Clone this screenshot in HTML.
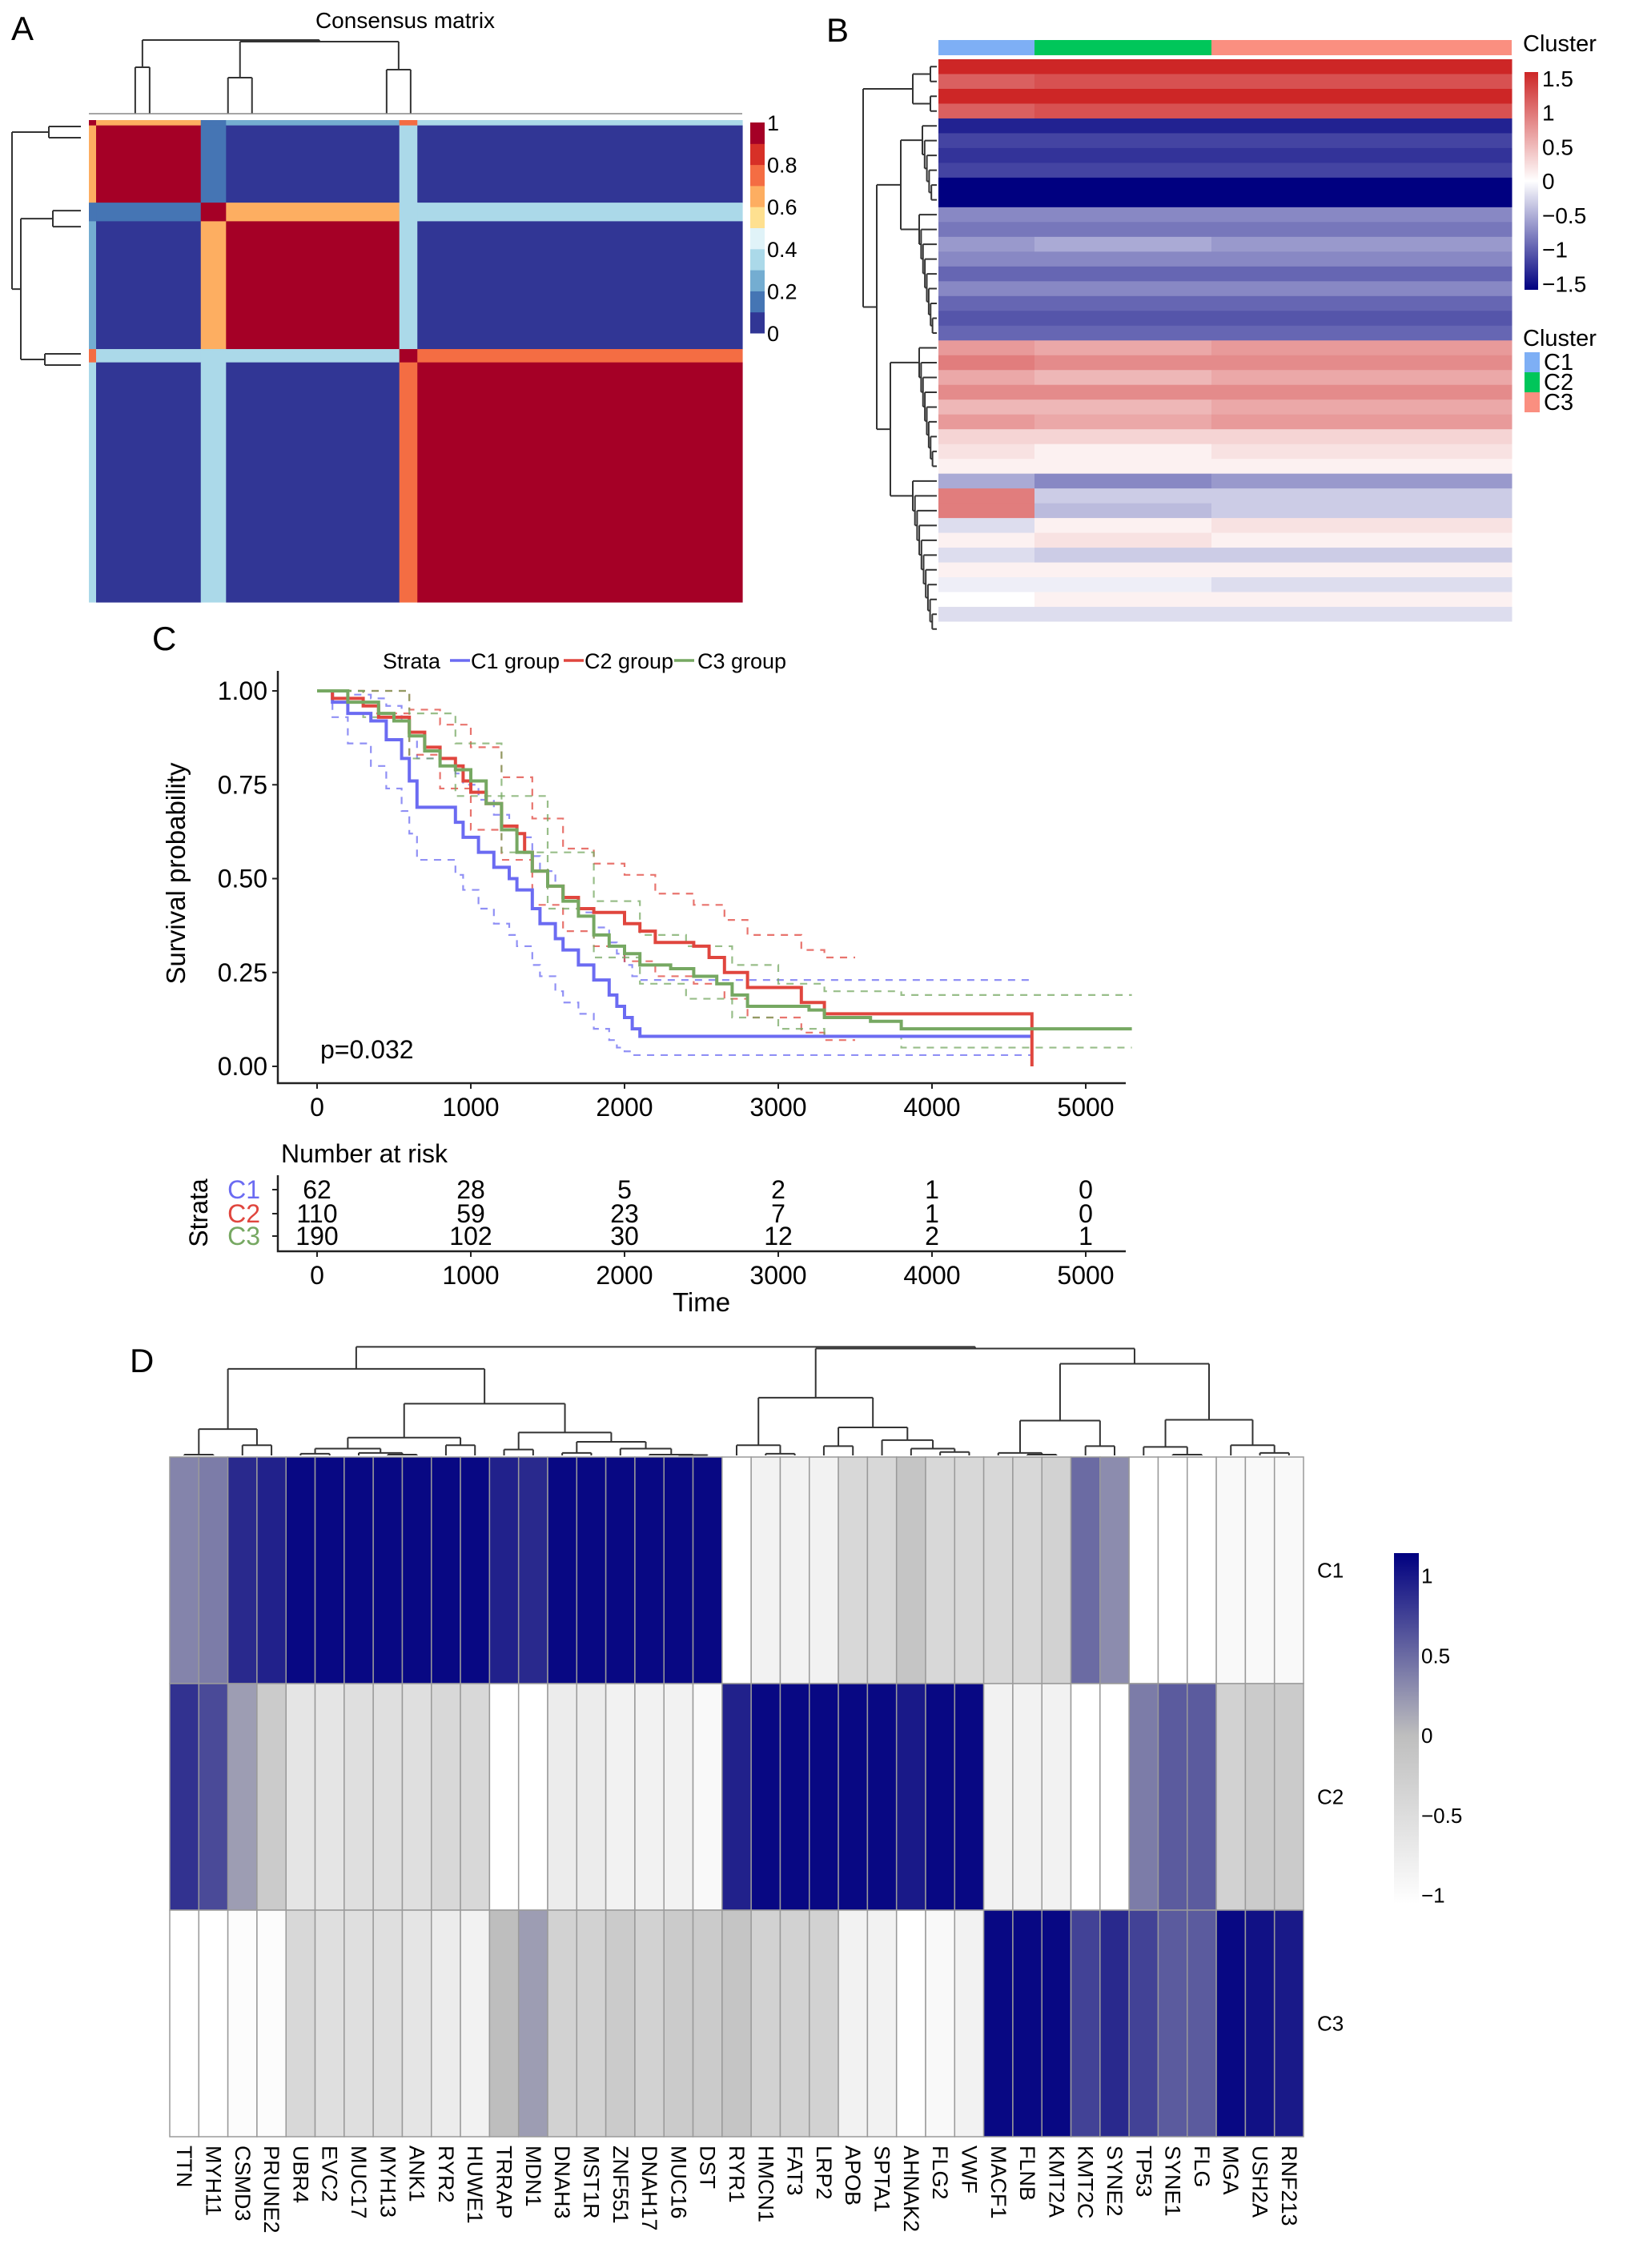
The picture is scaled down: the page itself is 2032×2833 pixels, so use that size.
<!DOCTYPE html>
<html><head><meta charset="utf-8"><title>Figure</title>
<style>
html,body{margin:0;padding:0;background:#fff;}
svg{display:block;font-family:"Liberation Sans",Arial,sans-serif;}
.n{font-family:"Liberation Sans Narrow","Liberation Sans",sans-serif;}
</style></head>
<body>
<svg id="fig" width="2032" height="2833" viewBox="0 0 2032 2833" xmlns="http://www.w3.org/2000/svg">
<rect width="2032" height="2833" fill="#fff"/>
<text x="14" y="50" font-size="42">A</text>
<text x="1032" y="52" font-size="42">B</text>
<text x="190" y="812" font-size="42">C</text>
<text x="162" y="1714" font-size="42">D</text>
<text x="506" y="35" font-size="28" text-anchor="middle">Consensus matrix</text>
<g id="gA"></g>
<g id="gB"></g>
<g id="gC" class="n"></g>
<g id="gD"></g>
</svg>
<script>
const NS='http://www.w3.org/2000/svg';
function mk(parent,tag,attrs,txt){const e=document.createElementNS(NS,tag);for(const k in attrs)e.setAttribute(k,attrs[k]);if(txt!==undefined)e.textContent=txt;parent.appendChild(e);return e;}

/* ================= PANEL A DATA ================= */
const clusterSizes=[62,110,190];
const stripeSizes=[4,14,10];
// group order: c1 stripe, c1 core, c2 stripe, c2 core, c3 stripe, c3 core
const consensusVals=[
 [0.95,0.65,0.15,0.25,0.75,0.35],
 [0.65,0.95,0.15,0.05,0.35,0.05],
 [0.15,0.15,0.95,0.65,0.35,0.35],
 [0.25,0.05,0.65,0.95,0.35,0.05],
 [0.75,0.35,0.35,0.35,0.95,0.72],
 [0.35,0.05,0.35,0.05,0.72,0.95]];
const rdylbu=['#313695','#4575b4','#74add1','#abd9e9','#e0f3f8','#fee090','#fdae61','#f46d43','#d73027','#a50026'];
const aTicks=['0','0.2','0.4','0.6','0.8','1'];

/* ================= PANEL B DATA ================= */
const bCats=['C1','C2','C3'];
const bRowC1=[1.5,1.1,1.5,1.1,-1.3,-1.1,-1.2,-1.1,-1.5,-1.5,-0.7,-0.8,-0.6,-0.7,-0.9,-0.7,-0.9,-1.0,-0.9,0.7,0.9,0.6,0.8,0.5,0.7,0.3,0.2,0.1,-0.5,0.9,0.9,-0.2,0.1,-0.2,0.1,-0.1,0.0,-0.2,0.0];
const bRowC2=[1.5,1.2,1.5,1.2,-1.3,-1.1,-1.2,-1.1,-1.5,-1.5,-0.7,-0.8,-0.5,-0.7,-0.9,-0.7,-0.9,-1.0,-0.9,0.6,0.8,0.5,0.8,0.5,0.6,0.3,0.1,0.1,-0.7,-0.3,-0.4,0.1,0.2,-0.3,0.1,-0.1,0.1,-0.2,0.0];
const bRowC3=[1.5,1.2,1.5,1.2,-1.3,-1.1,-1.2,-1.1,-1.5,-1.5,-0.7,-0.8,-0.6,-0.7,-0.9,-0.7,-0.9,-1.0,-0.9,0.7,0.8,0.6,0.8,0.6,0.7,0.3,0.2,0.1,-0.6,-0.3,-0.3,0.2,0.1,-0.3,0.1,-0.2,0.1,-0.2,0.0];
const bTicks=['1.5','1','0.5','0','\u22120.5','\u22121','\u22121.5'];
const bTickVals=[1.5,1,0.5,0,-0.5,-1,-1.5];

/* ================= PANEL C DATA ================= */
const c1T=[0,100,200,350,450,550,600,650,850,900,950,1050,1150,1250,1300,1400,1450,1550,1600,1700,1800,1900,1950,2000,2050,2100,4650];
const c1S=[1,.97,.94,.92,.87,.82,.76,.69,.69,.65,.61,.57,.53,.50,.47,.42,.38,.34,.31,.27,.23,.19,.16,.13,.10,.08,.08];
const c1Lo=[1,.93,.86,.80,.74,.68,.62,.55,.55,.51,.47,.42,.38,.35,.32,.27,.24,.20,.17,.14,.10,.07,.05,.04,.03,.03,.03];
const c1Hi=[1,1,.99,.98,.96,.92,.88,.82,.82,.78,.75,.71,.67,.64,.61,.56,.52,.48,.45,.41,.37,.33,.30,.27,.24,.23,.23];
const c2T=[0,100,300,400,600,700,800,900,950,1000,1100,1200,1300,1350,1400,1500,1600,1700,1800,2000,2100,2200,2450,2550,2650,2800,3150,3300,4650,4650];
const c2S=[1,.98,.96,.93,.89,.85,.82,.80,.76,.73,.70,.64,.62,.57,.52,.48,.45,.42,.41,.38,.36,.33,.32,.29,.25,.21,.17,.14,.14,0];
const c2CiT=[0,300,600,800,1000,1200,1400,1600,1800,2000,2200,2450,2650,2800,3150,3300,3500];
const c2Hi=[1,1,.95,.91,.85,.77,.66,.58,.54,.51,.46,.43,.39,.35,.31,.29,.29];
const c2Lo=[1,.94,.83,.74,.63,.55,.43,.36,.32,.28,.24,.22,.18,.13,.09,.07,.07];
const c3T=[0,200,400,500,600,700,800,900,1000,1100,1200,1300,1400,1500,1600,1700,1800,1900,2000,2100,2300,2450,2600,2700,2800,3200,3300,3600,3800,5300];
const c3S=[1,.97,.94,.92,.88,.84,.80,.79,.76,.70,.63,.57,.52,.48,.44,.40,.35,.32,.30,.27,.26,.24,.22,.19,.16,.15,.13,.12,.10,.10];
const c3CiT=[0,300,600,900,1200,1500,1800,2100,2400,2700,3000,3300,3800,5300];
const c3Hi=[1,1,.94,.86,.72,.57,.44,.35,.32,.27,.22,.20,.19,.19];
const c3Lo=[1,.93,.82,.72,.57,.42,.29,.22,.18,.13,.10,.08,.05,.05];
const xTicks=[0,1000,2000,3000,4000,5000];
const yTicks=[0,0.25,0.5,0.75,1];
const yTickLabels=['0.00','0.25','0.50','0.75','1.00'];
const riskGroups=['C1','C2','C3'];
const riskC1=[62,28,5,2,1,0];
const riskC2=[110,59,23,7,1,0];
const riskC3=[190,102,30,12,2,1];

/* ================= PANEL D DATA ================= */
const genes=['TTN','MYH11','CSMD3','PRUNE2','UBR4','EVC2','MUC17','MYH13','ANK1','RYR2','HUWE1','TRRAP','MDN1','DNAH3','MST1R','ZNF551','DNAH17','MUC16','DST','RYR1','HMCN1','FAT3','LRP2','APOB','SPTA1','AHNAK2','FLG2','VWF','MACF1','FLNB','KMT2A','KMT2C','SYNE2','TP53','SYNE1','FLG','MGA','USH2A','RNF213'];
const dRows=['C1','C2','C3'];
const dC1=[0.35,0.4,0.9,0.95,1.1,1.1,1.1,1.1,1.1,1.1,1.1,0.95,0.9,1.1,1.1,1.1,1.1,1.1,1.1,-1,-0.8,-0.8,-0.8,-0.4,-0.4,-0.1,-0.4,-0.4,-0.4,-0.4,-0.3,0.5,0.3,-1,-1,-1,-0.9,-0.9,-0.9];
const dC2=[0.85,0.7,0.2,-0.2,-0.6,-0.6,-0.5,-0.5,-0.5,-0.4,-0.4,-1,-1,-0.7,-0.7,-0.8,-0.8,-0.8,-0.9,0.95,1.1,1.1,1.1,1.1,1.1,1.0,1.1,1.1,-0.8,-0.8,-0.8,-1,-1,0.4,0.6,0.6,-0.3,-0.2,-0.2];
const dC3=[-1,-1,-0.95,-0.95,-0.4,-0.5,-0.5,-0.5,-0.6,-0.7,-0.8,0.0,0.2,-0.3,-0.3,-0.2,-0.3,-0.2,-0.2,-0.1,-0.3,-0.3,-0.3,-0.8,-0.8,-1,-0.9,-0.8,1.1,1.1,1.1,0.75,0.9,0.75,0.6,0.6,1.1,1.05,1.0];
const dTicks=['1','0.5','0','\u22120.5','\u22121'];
const dTickVals=[1,0.5,0,-0.5,-1];

/* ---------- helpers ---------- */
function lerpColor(a,b,t){const pa=[1,3,5].map(i=>parseInt(a.substr(i,2),16)),pb=[1,3,5].map(i=>parseInt(b.substr(i,2),16));return 'rgb('+pa.map((v,i)=>Math.round(v+(pb[i]-v)*t)).join(',')+')';}
function drawTree(parent,node,pos,base,scale,vertical,name){
  if(typeof node==='number') return [pos(node),0];
  const kids=node.c.map(k=>drawTree(parent,k,pos,base,scale,vertical,name));
  const h=node.h;
  const lo=Math.min(...kids.map(k=>k[0])),hi=Math.max(...kids.map(k=>k[0]));
  let d='';
  kids.forEach(k=>{ if(!vertical) d+='M'+k[0]+' '+(base-k[1]*scale)+'V'+(base-h*scale);
                   else d+='M'+(base-k[1]*scale)+' '+k[0]+'H'+(base-h*scale);});
  if(!vertical) d+='M'+lo+' '+(base-h*scale)+'H'+hi; else d+='M'+(base-h*scale)+' '+lo+'V'+hi;
  const p=mk(parent,'path',{d:d,fill:'none',stroke:'#333','stroke-width':2});
  
  
  return [(lo+hi)/2,h];
}

/* ================= PANEL A ================= */
(function(){
  const g=document.getElementById('gA');
  const X0=111,X1=927,Y0=150,Y1=752;
  const total=clusterSizes.reduce((a,b)=>a+b,0);
  const groups=[];
  clusterSizes.forEach((s,i)=>{groups.push(stripeSizes[i]);groups.push(s-stripeSizes[i]);});
  const sx=(X1-X0)/total, sy=(Y1-Y0)/total;
  let cum=[0];groups.forEach(s=>cum.push(cum[cum.length-1]+s));
  for(let i=0;i<6;i++)for(let j=0;j<6;j++){
    const v=consensusVals[i][j];
    const r=mk(g,'rect',{x:X0+cum[j]*sx,y:Y0+cum[i]*sy,width:groups[j]*sx+0.6,height:groups[i]*sy+0.6,fill:rdylbu[Math.min(9,Math.floor(v*10))]});
    
    
  }
  const clCum=[0];clusterSizes.forEach(s=>clCum.push(clCum[clCum.length-1]+s));
  const centers=clusterSizes.map((s,i)=>X0+(clCum[i]+s/2)*sx);
  const tp=[centers[0]-12,centers[0]+6,centers[1]-90,centers[1]-60,centers[2]-230,centers[2]-200];
  drawTree(g,{h:92,c:[{h:58,c:[0,1]},{h:90,c:[{h:45,c:[2,3]},{h:55,c:[4,5]}]}]},k=>tp[k],142,1,false,'top-dendrogram');
  const l1=mk(g,'line',{x1:X0,x2:X1,y1:142,y2:142,stroke:'#888','stroke-width':1.5});
  
  
  const lp=[Y0+8,Y0+22,Y0+clCum[1]*sy+10,Y0+clCum[1]*sy+30,Y0+clCum[2]*sy+6,Y0+clCum[2]*sy+20];
  drawTree(g,{h:86,c:[{h:40,c:[0,1]},{h:75,c:[{h:35,c:[2,3]},{h:45,c:[4,5]}]}]},k=>lp[k],101,1,true,'left-dendrogram');
  const bx=937,bw=18,by0=153,by1=416;const bh=(by1-by0)/10;
  rdylbu.forEach((c,i)=>{const r=mk(g,'rect',{x:bx,y:by1-(i+1)*bh,width:bw,height:bh+0.5,fill:c});
    
    });
  aTicks.forEach((t,i)=>{const y=by1-i*2*bh;const tx=mk(g,'text',{x:bx+bw+3,y:y+10,'font-size':27},t);
    
    });
})();

/* ================= PANEL B ================= */
(function(){
  const g=document.getElementById('gB');
  const X0=1172,X1=1888,Y0=74,Y1=795;
  const annColors=['#7eaff5','#00c65a','#fa8f80'];
  const bounds=[1172,1292,1513,1888];
  const n=bRowC1.length;const rh=(Y1-Y0)/n;
  const cols=[bRowC1,bRowC2,bRowC3];
  function bColor(v){v=Math.max(-1.5,Math.min(1.5,v));return v<0?lerpColor('#ffffff','#000080',-v/1.5):lerpColor('#ffffff','#cd2626',v/1.5);}
  bCats.forEach((c,ci)=>{
    const a=mk(g,'rect',{x:bounds[ci],y:50,width:bounds[ci+1]-bounds[ci],height:19,fill:annColors[ci]});
    
    
    cols[ci].forEach((v,ri)=>{
      const r=mk(g,'rect',{x:bounds[ci],y:Y0+ri*rh,width:bounds[ci+1]-bounds[ci]+0.5,height:rh+0.5,fill:bColor(v)});
      
      
    });
  });
  const pos=k=>Y0+(k+0.5)*rh;
  function ladder(a,b,h0,h1){let node=b;for(let k=b-1;k>=a;k--){node={h:h1+(h0-h1)*(b-k)/(b-a),c:[k,node]};}return node;}
  const tree={h:92,c:[{h:30,c:[ladder(0,1,8,2),ladder(2,3,8,2)]},
    {h:75,c:[{h:45,c:[ladder(4,9,18,4),ladder(10,18,22,3)]},{h:58,c:[ladder(19,27,22,3),ladder(28,38,30,3)]}]}]};
  drawTree(g,tree,pos,1170,1,true,'row-dendrogram');
  const t1=mk(g,'text',{x:1902,y:64,'font-size':29},'Cluster');
  
  
  const grad=mk(g,'defs',{});
  const lg=mk(grad,'linearGradient',{id:'gb',x1:0,y1:0,x2:0,y2:1});
  [['0','#cd2626'],['0.5','#ffffff'],['1','#000080']].forEach(s=>mk(lg,'stop',{offset:s[0],'stop-color':s[1]}));
  const cb=mk(g,'rect',{x:1904,y:90,width:17,height:272,fill:'url(#gb)'});
  
  
  bTicks.forEach((t,i)=>{const y=226-bTickVals[i]*85.5;const tx=mk(g,'text',{x:1926,y:y+10,'font-size':28},t);
    
    });
  const t2=mk(g,'text',{x:1902,y:432,'font-size':29},'Cluster');
  
  
  bCats.forEach((c,i)=>{
    const r=mk(g,'rect',{x:1904,y:440+i*25,width:19,height:25,fill:annColors[i]});
    
    
    const tx=mk(g,'text',{x:1928,y:462+i*25,'font-size':29},c);
    
    
  });
})();

/* ================= PANEL C ================= */
(function(){
  const g=document.getElementById('gC');
  const xs=t=>396+t*0.192, ys=s=>1332-s*469;
  const colors=['#6b6bf2','#e0463e','#76a862'];
  const ax=mk(g,'path',{d:'M347 838V1353H1406',fill:'none',stroke:'#222','stroke-width':2.5});
  
  
  yTicks.forEach((v,i)=>{
    const tk=mk(g,'line',{x1:340,x2:347,y1:ys(v),y2:ys(v),stroke:'#222','stroke-width':2});
    
    
    const tx=mk(g,'text',{x:334,y:ys(v)+11,'font-size':32,'text-anchor':'end'},yTickLabels[i]);
    
    
  });
  xTicks.forEach(v=>{
    const tk=mk(g,'line',{x1:xs(v),x2:xs(v),y1:1353,y2:1360,stroke:'#222','stroke-width':2});
    
    
    const tx=mk(g,'text',{x:xs(v),y:1394,'font-size':32,'text-anchor':'middle'},String(v));
    
    
  });
  const yl=mk(g,'text',{x:0,y:0,'font-size':33,'text-anchor':'middle',transform:'translate(231,1091) rotate(-90)'},'Survival probability');
  
  
  function step(T,S){let d='M'+xs(T[0])+' '+ys(S[0]);for(let i=1;i<T.length;i++)d+='H'+xs(T[i])+'V'+ys(S[i]);return d;}
  const series=[[c1T,c1S,c1T,c1Lo,c1Hi],[c2T,c2S,c2CiT,c2Lo,c2Hi],[c3T,c3S,c3CiT,c3Lo,c3Hi]];
  series.forEach((s,i)=>{
    [s[3],s[4]].forEach(ci=>{
      const p=mk(g,'path',{d:step(s[2],ci),fill:'none',stroke:colors[i],'stroke-width':2.2,'stroke-dasharray':'9 8',opacity:0.75});
      
      
    });
  });
  series.forEach((s,i)=>{
    const p=mk(g,'path',{d:step(s[0],s[1]),fill:'none',stroke:colors[i],'stroke-width':4});
    
    
  });
  const lt=mk(g,'text',{x:478,y:835,'font-size':27},'Strata');
  
  
  [[562,588],[704,730],[842,871]].forEach((p,i)=>{
    const l=mk(g,'line',{x1:p[0],x2:p[0]+25,y1:825,y2:825,stroke:colors[i],'stroke-width':3.5});
    
    
    const t=mk(g,'text',{x:p[1],y:835,'font-size':27},'C'+(i+1)+' group');
    
    
  });
  const pv=mk(g,'text',{x:400,y:1322,'font-size':32},'p=0.032');
  
  
  const nt=mk(g,'text',{x:351,y:1452,'font-size':32},'Number at risk');
  
  
  const ta=mk(g,'path',{d:'M347 1468V1563H1406',fill:'none',stroke:'#222','stroke-width':2.5});
  
  
  const rows=[riskC1,riskC2,riskC3];const ry=[1486,1516,1544];
  rows.forEach((r,i)=>{
    const lab=mk(g,'text',{x:325,y:ry[i]+11,'font-size':32,'text-anchor':'end',fill:colors[i]},riskGroups[i]);
    
    
    const tk=mk(g,'line',{x1:340,x2:347,y1:ry[i],y2:ry[i],stroke:'#222','stroke-width':2});
    
    
    r.forEach((v,j)=>{const t=mk(g,'text',{x:xs(xTicks[j]),y:ry[i]+11,'font-size':32,'text-anchor':'middle'},String(v));
      
      });
  });
  xTicks.forEach(v=>{
    const tk=mk(g,'line',{x1:xs(v),x2:xs(v),y1:1563,y2:1570,stroke:'#222','stroke-width':2});
    
    
    const tx=mk(g,'text',{x:xs(v),y:1604,'font-size':32,'text-anchor':'middle'},String(v));
    
    
  });
  const tt=mk(g,'text',{x:876,y:1638,'font-size':33,'text-anchor':'middle'},'Time');
  
  
  const st=mk(g,'text',{x:0,y:0,'font-size':32,'text-anchor':'middle',transform:'translate(259,1515) rotate(-90)'},'Strata');
  
  
})();

/* ================= PANEL D ================= */
(function(){
  const g=document.getElementById('gD');
  const X0=212,X1=1628,Y0=1820,Y1=2669;
  const cw=(X1-X0)/genes.length, rh=(Y1-Y0)/3;
  function dColor(v){return v<0?lerpColor('#bebebe','#ffffff',Math.min(1,-v)):lerpColor('#bebebe','#000080',Math.min(1,v/1.15));}
  const vals=[dC1,dC2,dC3];
  vals.forEach((row,ri)=>row.forEach((v,ci)=>{
    const r=mk(g,'rect',{x:X0+ci*cw,y:Y0+ri*rh,width:cw,height:rh,fill:dColor(v),stroke:'#9a9a9a','stroke-width':1.5});
    
    
  }));
  dRows.forEach((c,i)=>{const t=mk(g,'text',{x:1645,y:Y0+(i+0.5)*rh+9,'font-size':26},c);
    
    });
  genes.forEach((gn,i)=>{const x=X0+(i+0.5)*cw;const t=mk(g,'text',{x:0,y:0,'font-size':27,transform:'translate('+(x-9)+',2680) rotate(90)'},gn);
    
    });
  const tree={h:128,c:[
    {h:102,c:[{h:31,c:[{h:1,c:[0,1]},{h:12,c:[2,3]}]},
      {h:61,c:[{h:21,c:[{h:8,c:[{h:2,c:[4,5]},{h:3,c:[6,{h:1,c:[7,8]}]}]},{h:12,c:[9,10]}]},
               {h:27,c:[{h:7,c:[11,12]},{h:16,c:[{h:3,c:[13,14]},{h:8,c:[15,{h:1,c:[16,{h:0.5,c:[17,18]}]}]}]}]}]}]},
    {h:126,c:[
      {h:68,c:[{h:12,c:[19,{h:2,c:[20,21]}]},{h:33,c:[{h:11,c:[22,23]},{h:18,c:[24,{h:8,c:[25,{h:4,c:[26,27]}]}]}]}]},
      {h:108,c:[{h:41,c:[{h:3,c:[28,{h:1,c:[29,30]}]},{h:11,c:[31,32]}]},{h:42,c:[{h:10,c:[33,{h:1,c:[34,35]}]},{h:12,c:[36,{h:3,c:[37,38]}]}]}]}]}]};
  drawTree(g,tree,k=>X0+(k+0.5)*cw,1818,1.06,false,'column-dendrogram');
  const defs=mk(g,'defs',{});
  const lg=mk(defs,'linearGradient',{id:'gd',x1:0,y1:0,x2:0,y2:1});
  [['0','#000080'],['0.52','#bebebe'],['1','#ffffff']].forEach(s=>mk(lg,'stop',{offset:s[0],'stop-color':s[1]}));
  const cb=mk(g,'rect',{x:1741,y:1940,width:31,height:438,fill:'url(#gd)'});
  
  
  dTicks.forEach((t,i)=>{const y=2168-dTickVals[i]*199.5;const tx=mk(g,'text',{x:1775,y:y+9,'font-size':26},t);
    
    });
})();
</script>
</body></html>
